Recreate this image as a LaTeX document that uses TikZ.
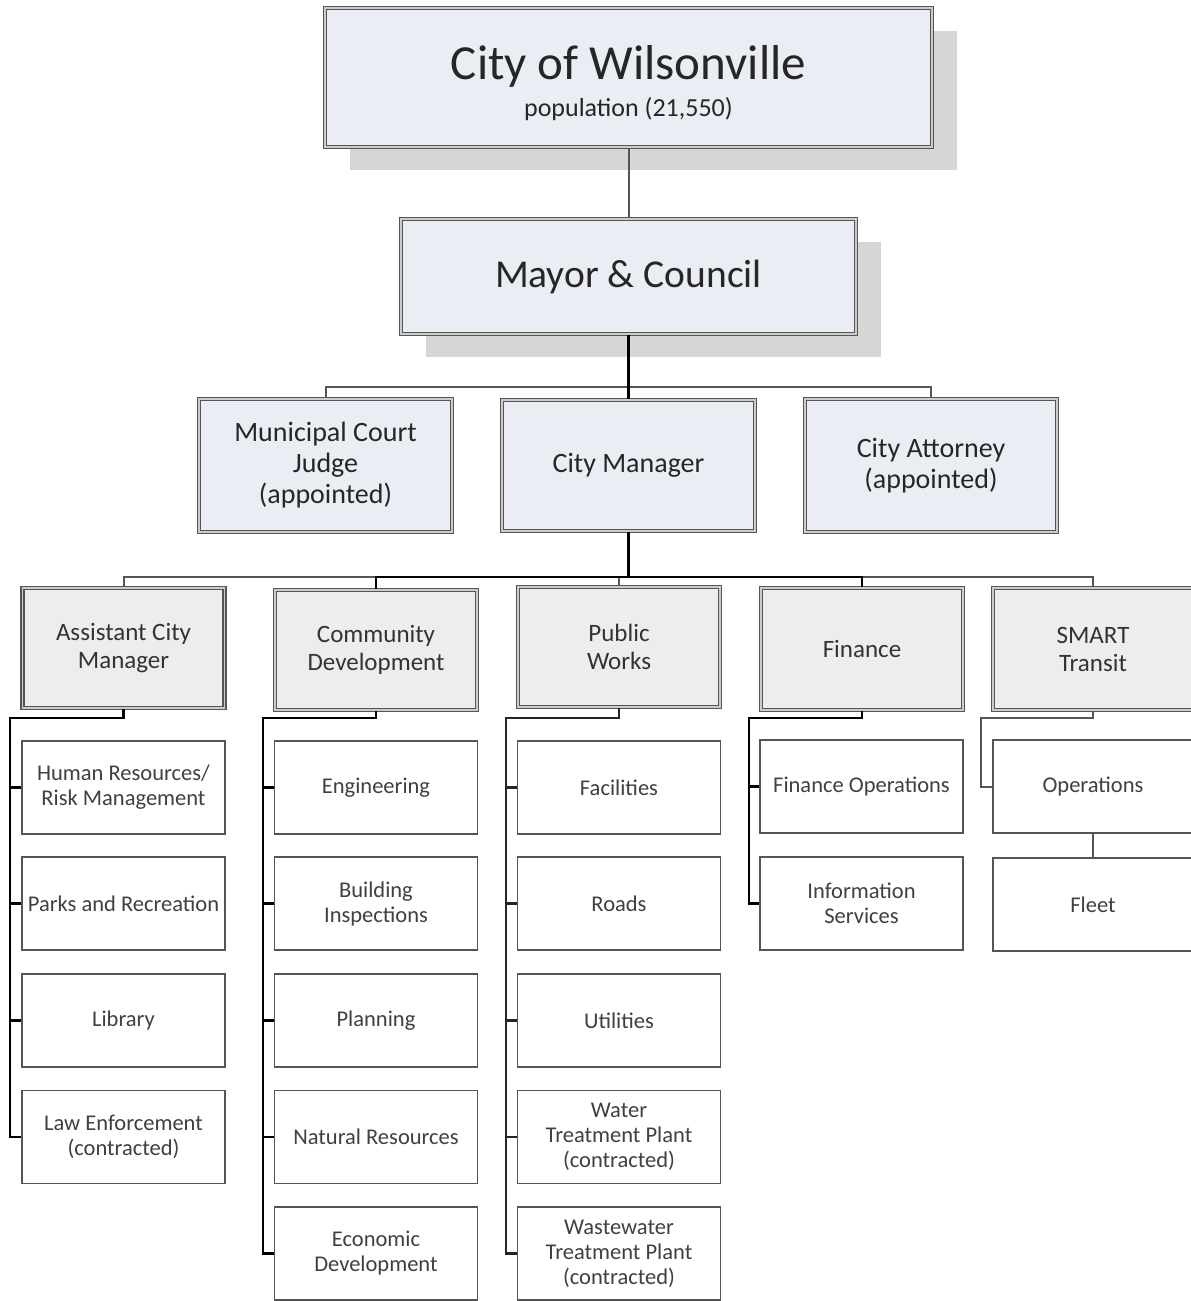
\documentclass[tikz,border=0pt]{standalone}
\usepackage{fontspec}
\setmainfont{Carlito}
\usepackage{tikz}
\usetikzlibrary{shadows}
\definecolor{topfill}{HTML}{EAEEF4}
\definecolor{deptfill}{HTML}{EDEDED}
\definecolor{shadowgray}{HTML}{D6D6D6}
\definecolor{linegray}{HTML}{555555}

\begin{document}
\begin{tikzpicture}[line join=miter,x=1pt,y=-1pt,
  toplevel/.style={draw=linegray,line width=1.3pt,double=black!20,double distance=1.8pt,
    fill=topfill,align=center,text=black!85,inner sep=0pt},
  deptbox/.style={draw=linegray,line width=1.3pt,double=black!20,double distance=1.8pt,
    fill=deptfill,align=center,text=black!80,inner sep=0pt,
    minimum width=202pt,minimum height=120pt,font=\fontsize{25}{28}\selectfont},
  unitbox/.style={draw=linegray,line width=1.8pt,fill=white,align=center,text=black!75,
    inner sep=0pt,minimum width=203pt,minimum height=93pt,font=\fontsize{22.5}{25}\selectfont},
  grayshadow/.style={drop shadow={shadow xshift=25pt,shadow yshift=-23pt,fill=shadowgray,opacity=1}},
  mainline/.style={draw=black,line width=2.8pt},
  pwline/.style={draw=black!85,line width=2.2pt},
  sideline/.style={draw=linegray,line width=2pt}]
\useasboundingbox (0,0) rectangle (1191,1301);
\clip (0,0) rectangle (1191,1301);
%top
\node[toplevel,grayshadow,minimum width=607pt,minimum height=139pt] (city) at (628.5,77.5)
  {{\fontsize{49}{52}\selectfont\rule{0pt}{46pt}City of Wilsonville}\\[9pt]{\fontsize{26}{30}\selectfont population (21,550)}};
\node[toplevel,grayshadow,minimum width=455pt,minimum height=115pt,font=\fontsize{39.5}{44}\selectfont] (mayor) at (628.5,276.5) {Mayor \& Council};
\node[toplevel,minimum width=253pt,minimum height=133pt,font=\fontsize{28}{31}\selectfont] (judge) at (325.5,465.5) {Municipal Court\\Judge\\(appointed)};
\node[toplevel,minimum width=253pt,minimum height=131pt,font=\fontsize{28}{31}\selectfont] (manager) at (628.5,465.5) {City Manager};
\node[toplevel,minimum width=252pt,minimum height=133pt,font=\fontsize{28}{31}\selectfont] (attorney) at (931,465.5) {City Attorney\\(appointed)};
%departments
\node[deptbox] (acm) at (123.5,648) {Assistant City\\Manager};
\node[deptbox] (cd) at (376,650) {Community\\Development};
\node[deptbox] (pw) at (619,647) {Public\\Works};
\node[deptbox,minimum height=122pt] (fin) at (862,649) {Finance};
\node[deptbox,minimum height=122pt,minimum width=200pt] (smart) at (1093,649) {SMART\\Transit};
%units
\node[unitbox] (hr) at (123.5,787.5) {Human Resources/\\Risk Management};
\node[unitbox] (parks) at (123.5,903.5) {Parks and Recreation};
\node[unitbox] (library) at (123.5,1020.5) {Library};
\node[unitbox] (law) at (123.5,1137) {Law Enforcement\\(contracted)};
\node[unitbox] (eng) at (376,787.5) {Engineering};
\node[unitbox] (bldg) at (376,903.5) {Building\\Inspections};
\node[unitbox] (plan) at (376,1020.5) {Planning};
\node[unitbox] (natres) at (376,1137) {Natural Resources};
\node[unitbox] (econ) at (376,1253.5) {Economic\\Development};
\node[unitbox] (facil) at (619,787.5) {Facilities};
\node[unitbox] (roads) at (619,903.5) {Roads};
\node[unitbox] (util) at (619,1020.5) {Utilities};
\node[unitbox] (water) at (619,1137) {Water\\Treatment Plant\\(contracted)};
\node[unitbox] (waste) at (619,1253.5) {Wastewater\\Treatment Plant\\(contracted)};
\node[unitbox] (finops) at (861.5,786.5) {Finance Operations};
\node[unitbox] (infosvc) at (861.5,903.5) {Information\\Services};
\node[unitbox,minimum width=200pt] (ops) at (1093,786.5) {Operations};
\node[unitbox,minimum width=200pt] (fleet) at (1093,904.5) {Fleet};
%connectors, upper part
\coordinate (bus1) at (628.5,387);
\coordinate (bus2) at (628.5,577);
\draw[sideline] (city.south) -- (mayor.north);
\draw[sideline] (judge.north) |- (bus1) -| (attorney.north);
\draw[mainline] (mayor.south) -- (manager.north);
\draw[mainline] (manager.south) -- (bus2);
\draw[sideline] (acm.north) |- (cd.north |- bus2);
\draw[sideline] (pw.north) -- (pw.north |- bus2);
\draw[sideline] (fin.north |- bus2) -| (smart.north);
\draw[mainline] (cd.north) |- (bus2) -| (fin.north);
%connectors, lower part
\coordinate (acmrail) at (10,718);
\coordinate (cdrail) at (263,718);
\coordinate (pwrail) at (506,718);
\coordinate (finrail) at (749,718);
\coordinate (smartrail) at (981,718);
\draw[mainline] (acm.south) |- (acmrail) |- (law.west);
\draw[mainline] (acmrail |- hr.west) -- (hr.west);
\draw[mainline] (acmrail |- parks.west) -- (parks.west);
\draw[mainline] (acmrail |- library.west) -- (library.west);
\draw[mainline] (cd.south) |- (cdrail) |- (econ.west);
\draw[mainline] (cdrail |- eng.west) -- (eng.west);
\draw[mainline] (cdrail |- bldg.west) -- (bldg.west);
\draw[mainline] (cdrail |- plan.west) -- (plan.west);
\draw[mainline] (cdrail |- natres.west) -- (natres.west);
\draw[pwline] (pw.south) |- (pwrail) |- (waste.west);
\draw[pwline] (pwrail |- facil.west) -- (facil.west);
\draw[pwline] (pwrail |- roads.west) -- (roads.west);
\draw[pwline] (pwrail |- util.west) -- (util.west);
\draw[pwline] (pwrail |- water.west) -- (water.west);
\draw[mainline] (fin.south) |- (finrail) |- (infosvc.west);
\draw[mainline] (finrail |- finops.west) -- (finops.west);
\draw[sideline] (smart.south) |- (smartrail) |- (ops.west);
\draw[sideline] (ops.south) -- (fleet.north);
\end{tikzpicture}
\end{document}
